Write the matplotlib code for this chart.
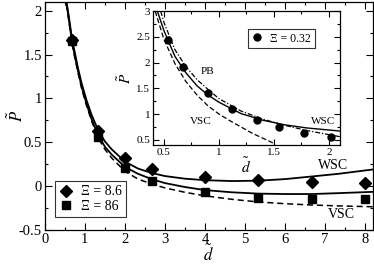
import matplotlib
matplotlib.use("Agg")
import matplotlib.pyplot as plt
from matplotlib.ticker import MultipleLocator, FuncFormatter

plt.rcParams['font.family'] = ['Liberation Serif', 'DejaVu Serif']
plt.rcParams['mathtext.fontset'] = 'stix'

# main panel: simulation points
d_pts = [0.67, 1.33, 2.0, 2.67, 4.0, 5.33, 6.67, 8.0]
p_xi86_pts = [1.67, 0.63, 0.32, 0.19, 0.10, 0.07, 0.05, 0.04]   # Xi = 8.6 (diamonds)
p_xi860_pts = [1.65, 0.56, 0.21, 0.06, -0.07, -0.13, -0.15, -0.15]  # Xi = 86 (squares)

# main panel: theory curves
d_curve = [0.54, 0.60, 0.68, 0.75, 0.83, 0.92, 1.04, 1.17, 1.33, 1.5, 1.67,
           2.0, 2.33, 2.67, 3.0, 3.5, 4.0, 4.67, 5.33, 6.0, 6.67, 7.33, 8.2]
wsc_86 = [2.10, 1.93, 1.67, 1.52, 1.34, 1.17, 0.98, 0.81, 0.64, 0.51, 0.42,
          0.28, 0.20, 0.15, 0.115, 0.085, 0.068, 0.058, 0.062, 0.08, 0.11, 0.14, 0.19]
wsc_860 = [2.08, 1.90, 1.64, 1.48, 1.31, 1.13, 0.94, 0.76, 0.58, 0.45, 0.36,
           0.22, 0.14, 0.08, 0.035, -0.01, -0.045, -0.07, -0.085, -0.09, -0.09, -0.08, -0.065]
vsc_main = [2.07, 1.88, 1.62, 1.46, 1.29, 1.11, 0.92, 0.74, 0.55, 0.42, 0.32,
            0.17, 0.08, 0.025, -0.02, -0.07, -0.11, -0.15, -0.18, -0.20, -0.215, -0.225, -0.235]

# inset: Xi = 0.32
d_in_pts = [0.54, 0.67, 0.90, 1.12, 1.35, 1.55, 1.77, 2.02]
p_in_pts = [2.44, 1.92, 1.40, 1.10, 0.88, 0.75, 0.63, 0.56]

d_in_wsc = [0.44, 0.5, 0.6, 0.7, 0.8, 0.9, 1.0, 1.2, 1.4, 1.6, 1.8, 2.0, 2.1]
p_in_wsc = [3.0, 2.62, 2.12, 1.80, 1.55, 1.37, 1.23, 1.01, 0.88, 0.79, 0.73, 0.69, 0.67]
d_in_pb = [0.47, 0.5, 0.6, 0.7, 0.8, 0.9, 1.0, 1.2, 1.4, 1.6, 1.8, 2.0, 2.1]
p_in_pb = [3.0, 2.78, 2.25, 1.92, 1.67, 1.48, 1.30, 1.06, 0.90, 0.78, 0.68, 0.60, 0.56]
d_in_vsc = [0.42, 0.5, 0.6, 0.7, 0.8, 0.9, 1.0, 1.1, 1.2, 1.3, 1.4, 1.5]
p_in_vsc = [3.0, 2.45, 1.98, 1.63, 1.37, 1.16, 1.00, 0.87, 0.75, 0.63, 0.53, 0.43]

fmt = FuncFormatter(lambda v, p: f'{v:g}')


def style_axes(ax, xmaj, xmin, ymaj, ymin, size, lab):
    ax.xaxis.set_major_locator(MultipleLocator(xmaj))
    ax.xaxis.set_minor_locator(MultipleLocator(xmin))
    ax.yaxis.set_major_locator(MultipleLocator(ymaj))
    ax.yaxis.set_minor_locator(MultipleLocator(ymin))
    ax.xaxis.set_major_formatter(fmt)
    ax.yaxis.set_major_formatter(fmt)
    ax.tick_params(which='both', direction='in', top=True, right=True, width=0.8)
    ax.tick_params(which='major', length=size, labelsize=lab, pad=2)
    ax.tick_params(which='minor', length=size / 2)
    for s in ax.spines.values():
        s.set_linewidth(0.9)


fig = plt.figure(figsize=(3.74, 2.65), dpi=100)
ax = fig.add_axes([0.120, 0.132, 0.877, 0.861])

ax.plot(d_curve, wsc_86, 'k-', lw=1.3)
ax.plot(d_curve, wsc_860, 'k-', lw=1.3)
ax.plot(d_curve, vsc_main, 'k--', lw=1.1, dashes=(4, 2.5))
ax.plot(d_pts, p_xi86_pts, 'kD', ms=6, label='Ξ = 8.6', ls='none')
ax.plot(d_pts, p_xi860_pts, 'ks', ms=5.5, label='Ξ = 86', ls='none')

ax.text(7.2, 0.23, 'WSC', fontsize=10, ha='center', va='center')
ax.text(7.4, -0.32, 'VSC', fontsize=10, ha='center', va='center')

ax.set_xlim(0, 8.2)
ax.set_ylim(-0.5, 2.1)
style_axes(ax, 1, 0.5, 0.5, 0.25, 5, 10.5)
ax.set_xlabel(r'$\tilde{d}$', fontsize=12)
ax.set_ylabel(r'$\tilde{P}$', fontsize=12)
ax.xaxis.set_label_coords(0.5, -0.062)
ax.yaxis.set_label_coords(-0.055, 0.5)

leg = ax.legend(loc='lower left', bbox_to_anchor=(0.03, 0.057), borderaxespad=0,
                fontsize=10, frameon=True, fancybox=False, handlelength=1.0,
                handletextpad=0.6, borderpad=0.3, labelspacing=0.1, numpoints=1)
leg.get_frame().set_edgecolor('k')
leg.get_frame().set_linewidth(0.8)

# inset
axi = fig.add_axes([0.409, 0.453, 0.500, 0.505])
axi.plot(d_in_wsc, p_in_wsc, 'k-', lw=1.0)
axi.plot(d_in_pb, p_in_pb, 'k-.', lw=0.9, dashes=(4, 1.5, 1, 1.5))
axi.plot(d_in_vsc, p_in_vsc, 'k--', lw=0.9, dashes=(4, 2))
axi.plot(d_in_pts, p_in_pts, 'ko', ms=5, ls='none', label='Ξ = 0.32')

axi.text(0.9, 1.83, 'PB', fontsize=8, ha='center', va='center')
axi.text(0.83, 0.85, 'VSC', fontsize=8, ha='center', va='center')
axi.text(1.95, 0.85, 'WSC', fontsize=8, ha='center', va='center')

axi.set_xlim(0.4, 2.1)
axi.set_ylim(0.4, 3.0)
style_axes(axi, 0.5, 0.25, 0.5, 0.25, 4, 8)
axi.set_xlabel(r'$\tilde{d}$', fontsize=11, labelpad=0)
axi.set_ylabel(r'$\tilde{P}$', fontsize=11, labelpad=2)

legi = axi.legend(loc='lower left', bbox_to_anchor=(0.508, 0.724), borderaxespad=0,
                  fontsize=8.5, frameon=True, fancybox=False, handlelength=1.0,
                  handletextpad=0.6, borderpad=0.3, numpoints=1)
legi.get_frame().set_edgecolor('k')
legi.get_frame().set_linewidth(0.8)

fig.savefig('out.png', dpi=100)
